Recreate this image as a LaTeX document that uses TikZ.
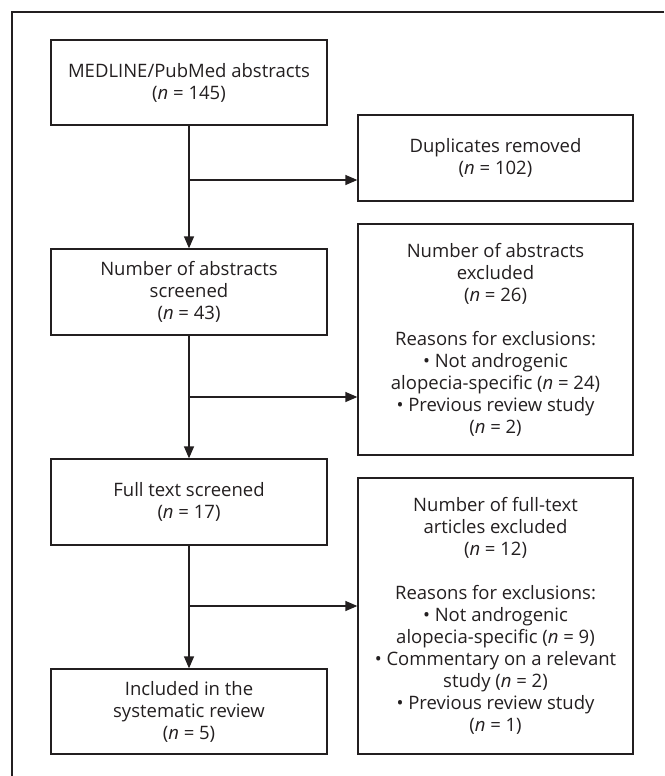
\documentclass[tikz,border=0pt]{standalone}
\usepackage{fontspec}
\setmainfont{Open Sans}
\usetikzlibrary{arrows.meta}
\definecolor{ink}{HTML}{231F20}
\begin{document}
\begin{tikzpicture}[x=1pt,y=-1pt,
  box/.style={draw=ink,line width=1.3pt,align=center,text=ink,
    font=\fontsize{18.5}{22}\selectfont,inner sep=0pt},
  leftbox/.style={box,minimum width=276pt},
  rightbox/.style={box,minimum width=275pt},
  arr/.style={draw=ink,line width=1.3pt,-{Triangle[length=12pt,width=10pt]}}]
\useasboundingbox (0,0) rectangle (664,776);
% frame
\coordinate (ftr) at (664,12);
\coordinate (ftl) at (12,12);
\coordinate (fbl) at (12,776);
\draw[ink,line width=1.2pt] (ftr) -- (ftl) -- (fbl);
% left column
\node[leftbox,minimum height=85pt] (med) at (189,82.5)
  {MEDLINE/PubMed abstracts\\(\textit{n} = 145)};
\node[leftbox,minimum height=86pt] (scr) at (189,292)
  {Number of abstracts\\screened\\(\textit{n} = 43)};
\node[leftbox,minimum height=86pt] (ful) at (189,502)
  {Full text screened\\(\textit{n} = 17)};
\node[leftbox,minimum height=85pt] (inc) at (189,711.5)
  {Included in the\\systematic review\\(\textit{n} = 5)};
% right column
\node[rightbox,minimum height=86pt] (dup) at (495.5,158)
  {Duplicates removed\\(\textit{n} = 102)};
\node[rightbox,minimum height=231pt] (exa) at (495.5,339.5)
  {Number of abstracts\\excluded\\(\textit{n} = 26)\\[22pt]
   Reasons for exclusions:\\• Not androgenic\\alopecia-specific (\textit{n} = 24)\\
   • Previous review study\\(\textit{n} = 2)};
\node[rightbox,minimum height=276pt] (exf) at (495.5,616)
  {Number of full-text\\articles excluded\\(\textit{n} = 12)\\[22pt]
   Reasons for exclusions:\\• Not androgenic\\alopecia-specific (\textit{n} = 9)\\
   • Commentary on a relevant\\study (\textit{n} = 2)\\• Previous review study\\(\textit{n} = 1)};
% junctions
\coordinate (j1) at (189,180);
\coordinate (j2) at (189,397);
\coordinate (j3) at (189,606);
% connectors
\draw[arr] (med.south) -- (scr.north);
\draw[arr] (scr.south) -- (ful.north);
\draw[arr] (ful.south) -- (inc.north);
\draw[arr] (j1) -- (j1 -| dup.west);
\draw[arr] (j2) -- (j2 -| exa.west);
\draw[arr] (j3) -- (j3 -| exf.west);
\end{tikzpicture}
\end{document}
